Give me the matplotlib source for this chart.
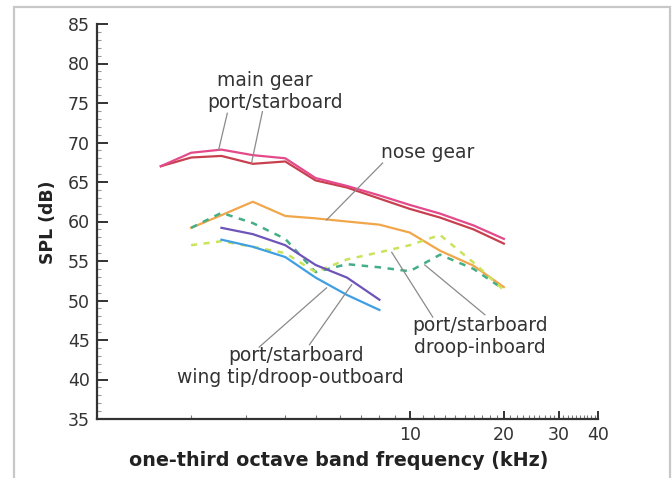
import numpy as np
import matplotlib
matplotlib.use("Agg")
import matplotlib.pyplot as plt
from matplotlib.ticker import FixedLocator, NullFormatter, FixedFormatter
from matplotlib.patches import Rectangle

nan = np.nan
# one-third octave band centre frequencies (kHz)
freqs = [1.6, 2.0, 2.5, 3.15, 4.0, 5.0, 6.3, 8.0, 10.0, 12.5, 16.0, 20.0]

main_gear_a = [67.0, 68.7, 69.1, 68.4, 68.0, 65.5, 64.5, 63.3, 62.1, 61.0, 59.5, 57.8]
main_gear_b = [67.0, 68.1, 68.3, 67.3, 67.6, 65.2, 64.3, 62.9, 61.6, 60.5, 59.0, 57.2]
nose_gear   = [nan, 59.2, 60.8, 62.5, 60.7, 60.4, 60.0, 59.6, 58.6, 56.3, 54.4, 51.7]
droop_in_a  = [nan, 59.2, 61.1, 59.8, 57.8, 53.6, 54.6, 54.2, 53.7, 55.8, 54.0, 51.4]
droop_in_b  = [nan, 57.0, 57.5, 56.8, 56.0, 53.6, 55.2, 56.1, 57.0, 58.3, 54.8, 51.3]
wing_tip_a  = [nan, nan, 59.2, 58.4, 57.0, 54.5, 52.9, 50.1, nan, nan, nan, nan]
wing_tip_b  = [nan, nan, 57.7, 56.8, 55.5, 52.9, 50.7, 48.8, nan, nan, nan, nan]

y_ticks = [35, 40, 45, 50, 55, 60, 65, 70, 75, 80, 85]
x_ticks = [10, 20, 30, 40]
x_tick_labels = ["10", "20", "30", "40"]

fig = plt.figure(figsize=(6.72, 4.78), dpi=100)
fig.patch.set_facecolor("white")
# light gray frame around the picture
fig.patches.append(Rectangle((14/672, -0.05), (670-14)/672, 1.05 - 7/478,
                             transform=fig.transFigure, fill=False,
                             edgecolor="#c8c8c8", linewidth=1.6))

ax = fig.add_axes([97/672, 59/478, 501/672, 395/478])
ax.set_xscale("log")
ax.set_xlim(1, 40)
ax.set_ylim(35, 85)

lw = 1.6
ax.plot(freqs, main_gear_b, color="#c8404f", lw=lw)
ax.plot(freqs, main_gear_a, color="#e4498a", lw=lw)
ax.plot(freqs, nose_gear, color="#f2a64a", lw=lw)
ax.plot(freqs, droop_in_a, color="#44ae86", lw=1.8, ls=(0, (2.6, 2.6)))
ax.plot(freqs, droop_in_b, color="#c9e35a", lw=1.8, ls=(0, (2.4, 2.6)))
ax.plot(freqs, wing_tip_a, color="#6e54b8", lw=lw)
ax.plot(freqs, wing_tip_b, color="#3f9fe2", lw=lw)

# axes styling
for s in ["top", "right"]:
    ax.spines[s].set_visible(False)
for s in ["left", "bottom"]:
    ax.spines[s].set_linewidth(1.6)
    ax.spines[s].set_color("#333333")

ax.yaxis.set_major_locator(FixedLocator(y_ticks))
ax.yaxis.set_minor_locator(FixedLocator([v for v in range(35, 86) if v % 5]))
ax.xaxis.set_major_locator(FixedLocator(x_ticks))
ax.xaxis.set_major_formatter(FixedFormatter(x_tick_labels))
ax.xaxis.set_minor_locator(FixedLocator(list(range(2, 10)) +
                                        [v for v in range(11, 40) if v not in (20, 30)]))
ax.xaxis.set_minor_formatter(NullFormatter())

ax.tick_params(axis="y", which="major", direction="in", length=8, width=1.4,
               color="#333333", labelsize=12.5, labelcolor="#333333", pad=5)
ax.tick_params(axis="y", which="minor", direction="in", length=3, width=0.8,
               color="#999999")
ax.tick_params(axis="x", which="major", direction="in", length=6, width=1.4,
               color="#333333", labelsize=12.5, labelcolor="#333333", pad=5)
ax.tick_params(axis="x", which="minor", direction="in", length=3, width=0.8,
               color="#777777")

ax.set_xlabel("one-third octave band frequency (kHz)", fontsize=13.8,
              fontweight="bold", color="#222222")
ax.xaxis.set_label_coords(0.483, -0.106)
ax.set_ylabel("SPL (dB)", fontsize=12.4, fontweight="bold", color="#222222")
ax.yaxis.set_label_coords(-0.098, 0.499)
ax.xaxis.label.set_va("center")
ax.yaxis.label.set_va("center")

# annotations
tkw = dict(fontsize=13.5, color="#333333", ha="center", va="center")
lkw = dict(color="#8a8a8a", lw=0.9)

ax.text(3.43, 77.9, "main gear", **tkw)
ax.text(3.72, 75.1, "port/starboard", **tkw)
ax.plot([2.61, 2.45], [73.7, 69.1], **lkw)
ax.plot([3.38, 3.12], [73.9, 67.4], **lkw)

ax.text(11.4, 68.7, "nose gear", **tkw)
ax.plot([8.19, 5.42], [67.4, 60.2], **lkw)

ax.text(4.34, 43.1, "port/starboard", **tkw)
ax.text(4.16, 40.2, "wing tip/droop-outboard", **tkw)
ax.plot([3.30, 5.42], [44.1, 51.6], **lkw)
ax.plot([4.78, 6.52], [44.4, 52.0], **lkw)

ax.text(16.77, 46.8, "port/starboard", **tkw)
ax.text(16.77, 44.0, "droop-inboard", **tkw)
ax.plot([11.85, 8.76], [47.9, 56.1], **lkw)
ax.plot([17.39, 11.17], [48.2, 54.5], **lkw)

fig.savefig("out.png", dpi=100)
